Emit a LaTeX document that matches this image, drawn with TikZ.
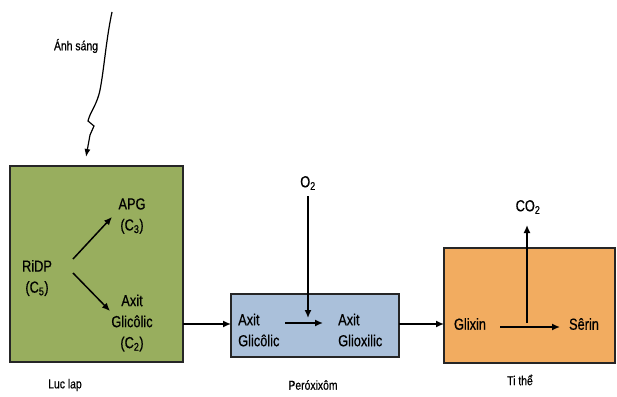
\documentclass[tikz,border=0pt]{standalone}
\usepackage{fontspec}
\setmainfont{Liberation Sans}[FakeStretch=0.8,FakeBold=0.6]
\usetikzlibrary{arrows.meta}
\definecolor{chloro}{RGB}{152,174,94}
\definecolor{perox}{RGB}{170,192,218}
\definecolor{mito}{RGB}{242,172,96}
\tikzset{
  organelle/.style={draw=black!85, line width=1.8pt},
  lbl/.style={font=\fontsize{16}{21}\selectfont, align=center, inner sep=0pt},
  caption/.style={font=\fontsize{13}{15}\selectfont, inner sep=0pt},
  flow/.style={line width=1.5pt, -{Latex[length=8pt,width=7pt]}},
}
\begin{document}
\begin{tikzpicture}[x=1pt,y=-1pt]
\useasboundingbox (0,0) rectangle (617,396);
% organelles
\draw[organelle, fill=chloro] (10,166) rectangle (183,362);
\draw[organelle, fill=perox] (231,294) rectangle (399,357);
\draw[organelle, fill=mito] (444,248) rectangle (615,363);

% light
\node[caption] (light) at (76,46) {Ánh sáng};
\coordinate (ls) at (112,12);
\coordinate (le) at (86,157);
\draw[line width=1.2pt, -{Latex[length=8pt,width=6pt]}]
  (ls) .. controls (106,40) and (104,70) .. (100,90)
  .. controls (97,105) and (90,112) .. (88,121)
  -- (94,126) -- (90,135) -- (le);

% chloroplast
\node[lbl] (ridp) at (37,278) {RiDP\\(C\textsubscript{5})};
\node[lbl] (apg) at (132,216) {APG\\(C\textsubscript{3})};
\node[lbl] (gly1) at (132,323) {Axit\\Glicôlic\\(C\textsubscript{2})};
\coordinate (r1) at (73,259);
\coordinate (r2) at (112,217);
\coordinate (r3) at (73,273);
\coordinate (r4) at (110,311);
\draw[flow] (r1) -- (r2);
\draw[flow] (r3) -- (r4);

% peroxisome
\node[lbl, align=left, anchor=west] (gly2) at (238,330) {Axit\\Glicôlic};
\node[lbl, align=left, anchor=west] (glx) at (338,330) {Axit\\Glioxilic};
\node[lbl] (o2) at (308,183) {O\textsubscript{2}};
\draw[flow] (285,323) -- (323,323);
\draw[flow] (o2.south) ++(0,6) -- (308,318);

% mitochondrion
\node[lbl] (glycine) at (470,324) {Glixin};
\node[lbl] (serine) at (584,324) {Sêrin};
\node[lbl] (co2) at (528,207) {CO\textsubscript{2}};
\draw[flow] (500,327) -- (560,327);
\draw[flow] (527,323) -- (527,225);

% transfers between organelles
\draw[flow] (183,324) -- (231,324);
\draw[flow] (399,324) -- (444,324);

% captions
\node[caption] (c1) at (65,385) {Luc lap};
\node[caption] (c2) at (313,385) {Peróxixôm};
\node[caption] (c3) at (520,380) {Ti thể};
\end{tikzpicture}
\end{document}
